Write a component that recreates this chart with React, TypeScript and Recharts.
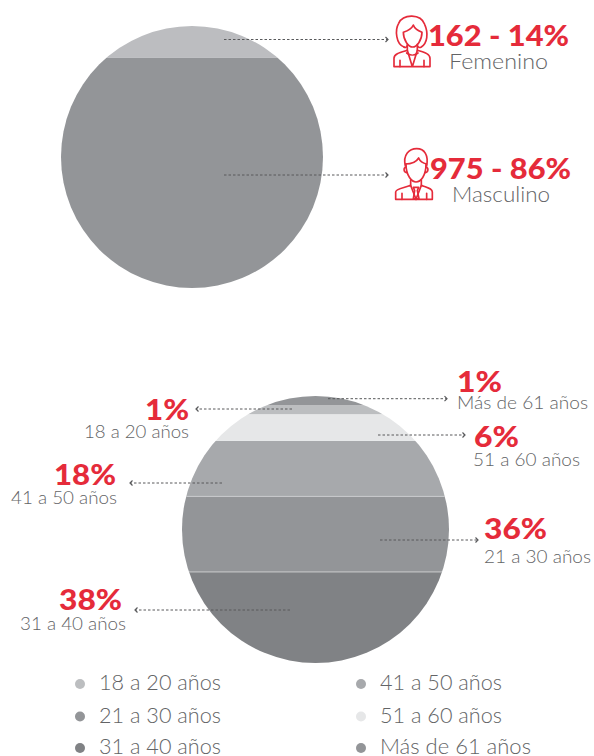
import React from "react";
import { BarChart, Bar, XAxis, YAxis } from "recharts";

// Band heights (share of each circle's diameter), bottom to top
const genderSeries = ["Masculino", "Femenino"];
const genderBands = [88, 12];
const genderColors = ["#939598", "#bcbdc0"];

const ageSeries = ["31 a 40 años", "21 a 30 años", "41 a 50 años", "51 a 60 años", "18 a 20 años", "Más de 61 años"];
const ageBands = [34.1, 28.3, 20.8, 10, 3.4, 3.4];
const ageColors = ["#808285", "#939598", "#a7a9ac", "#e6e7e8", "#bcbec0", "#939598"];
const ageSeparators = ["21 a 30 años", "41 a 50 años"];

const legendLeft = ["18 a 20 años", "21 a 30 años", "31 a 40 años"];
const legendRight = ["41 a 50 años", "51 a 60 años", "Más de 61 años"];
const legendLeftColors = ["#bcbec0", "#939598", "#808285"];
const legendRightColors = ["#a7a9ac", "#e6e7e8", "#939598"];
const legendRows = [684, 716.5, 748];
const legendBaselines = [689.5, 722.5, 754];
const legendLeftLengths = [122, 122, 122];
const legendRightLengths = [122, 122, 151];

const RED = "#e52b3a";
const GREY = "#636466";
const LINE = "#58595b";

const callouts = [
  { big: "162 - 14%", small: "Femenino", bx: 428, by: 46, bw: 141, sx: 449, sy: 69, sw: 99, sSize: 21, anchor: "start" },
  { big: "975 - 86%", small: "Masculino", bx: 430, by: 179, bw: 141, sx: 452, sy: 202, sw: 98, sSize: 21, anchor: "start" },
  { big: "1%", small: "Más de 61 años", bx: 457, by: 392, bw: 45, sx: 457, sy: 409, sw: 131, sSize: 18, anchor: "start" },
  { big: "6%", small: "51 a 60 años", bx: 474, by: 447, bw: 45, sx: 473, sy: 466, sw: 107, sSize: 18, anchor: "start" },
  { big: "36%", small: "21 a 30 años", bx: 484, by: 539, bw: 63, sx: 484, sy: 563, sw: 107, sSize: 18, anchor: "start" },
  { big: "1%", small: "18 a 20 años", bx: 189, by: 420, bw: 44, sx: 189, sy: 438, sw: 105, sSize: 18, anchor: "end" },
  { big: "18%", small: "41 a 50 años", bx: 116, by: 485, bw: 62, sx: 117, sy: 504, sw: 106, sSize: 18, anchor: "end" },
  { big: "38%", small: "31 a 40 años", bx: 122, by: 610, bw: 63, sx: 126, sy: 630, sw: 106, sSize: 18, anchor: "end" },
];

const leaders = [
  { y: 39.5, from: 224, to: 388 },
  { y: 175, from: 224, to: 388 },
  { y: 398.7, from: 328, to: 447 },
  { y: 409, from: 292, to: 196 },
  { y: 435, from: 378, to: 465 },
  { y: 483, from: 222, to: 130 },
  { y: 540, from: 380, to: 478 },
  { y: 610, from: 290, to: 135 },
];

const makeRow = (names: string[], values: number[]) => {
  const row: Record<string, number | string> = { name: "total" };
  names.forEach((n, i) => (row[n] = values[i]));
  return [row];
};

function Slice(props: any) {
  const { x, y, width, height, fill, clipId, separator } = props;
  return (
    <g clipPath={`url(#${clipId})`}>
      <rect x={x} y={y} width={width} height={height} fill={fill} />
      {separator ? <line x1={x} x2={x + width} y1={y + height} y2={y + height} stroke="#c9cacc" strokeWidth={1} /> : null}
    </g>
  );
}

function SlicedCircle({ names, values, colors, size, left, top, id, separators = [] }: any) {
  return (
    <div style={{ position: "absolute", left, top, width: size, height: size }}>
      <BarChart width={size} height={size} data={makeRow(names, values)} margin={{ top: 0, right: 0, bottom: 0, left: 0 }} barCategoryGap={0}>
        <defs>
          <clipPath id={id}>
            <circle cx={size / 2} cy={size / 2} r={size / 2} />
          </clipPath>
        </defs>
        <XAxis dataKey="name" hide />
        <YAxis type="number" domain={[0, 100]} hide />
        {names.map((n: string, i: number) => (
          <Bar
            key={n}
            dataKey={n}
            stackId="a"
            fill={colors[i]}
            isAnimationActive={false}
            shape={(p: any) => <Slice {...p} clipId={id} separator={separators.includes(n)} />}
          />
        ))}
      </BarChart>
    </div>
  );
}

const iconStyle = { fill: "none", stroke: RED, strokeWidth: 5, strokeLinejoin: "round", strokeLinecap: "round" } as any;

const WomanIcon = () => (
  <g transform="translate(380,5) scale(0.3333)" {...iconStyle}>
    <path d="M72 126 C48 118 44 75 56 55 C70 26 122 26 134 58 C146 85 142 115 124 126 C118 129 114 127 112 122" />
    <path d="M72 126 C76 129 80 127 82 122" />
    <path d="M70 82 C82 78 95 72 100 60 C104 72 116 78 126 82 C126 106 110 126 98 126 C86 126 70 106 70 82 Z" />
    <path d="M82 118 L82 136 M112 118 L112 136" />
    <path d="M42 185 L42 160 C42 146 62 142 82 136 L97 185 L112 136 C132 142 150 146 150 160 L150 185 Z" />
    <path d="M80 144 C90 152 104 152 114 144" />
    <path d="M60 166 L60 185 M132 166 L132 185" />
  </g>
);

const ManIcon = () => (
  <g transform="translate(380,140) scale(0.3333)" {...iconStyle}>
    <path d="M76 78 C68 44 88 26 110 26 C134 26 146 46 140 78" />
    <path d="M76 72 C94 72 110 64 116 54 C120 64 130 70 140 72" />
    <path d="M78 72 C78 108 96 126 108 126 C122 126 138 108 138 72" />
    <path d="M78 82 C70 82 70 96 80 98 M138 82 C146 82 146 96 136 98" />
    <path d="M92 120 L92 136 M124 120 L124 136" />
    <path d="M47 178 L47 156 C47 146 72 144 92 136 L108 178 L124 136 C144 144 157 146 157 156 L157 178 Z" />
    <path d="M100 142 L116 142 L112 152 L117 176 L108 178 L100 176 L104 152 Z" />
    <path d="M66 160 L66 178 M140 160 L140 178" />
  </g>
);

export default function App() {
  return (
    <div style={{ position: "absolute", left: 0, top: 0, width: 594, height: 756, overflow: "hidden", background: "#fff", fontFamily: "Lato" }}>
      <SlicedCircle id="clipGender" names={genderSeries} values={genderBands} colors={genderColors} size={262} left={61} top={26} />
      <SlicedCircle id="clipAge" names={ageSeries} values={ageBands} colors={ageColors} size={267} left={182} top={396} separators={ageSeparators} />
      <svg width={594} height={756} style={{ position: "absolute", left: 0, top: 0 }}>
        {leaders.map((l, i) => {
          const dir = l.to > l.from ? 1 : -1;
          return (
            <g key={i} stroke={LINE} fill="none">
              <line x1={l.from} x2={l.to} y1={l.y} y2={l.y} strokeWidth={1} strokeDasharray="2.5 2" />
              <polyline points={`${l.to - dir * 2.5},${l.y - 2.5} ${l.to},${l.y} ${l.to - dir * 2.5},${l.y + 2.5}`} strokeWidth={1.2} />
            </g>
          );
        })}
        <WomanIcon />
        <ManIcon />
        {callouts.map((c, i) => (
          <g key={i} textAnchor={c.anchor as any} fontFamily="Lato">
            <text x={c.bx} y={c.by} fill={RED} fontSize={28} fontWeight={900} textLength={c.bw} lengthAdjust="spacingAndGlyphs">{c.big}</text>
            <text x={c.sx} y={c.sy} fill={GREY} fontSize={c.sSize} fontWeight={300} textLength={c.sw} lengthAdjust="spacingAndGlyphs">{c.small}</text>
          </g>
        ))}
        {legendLeft.map((t, i) => (
          <g key={t}>
            <circle cx={80} cy={legendRows[i]} r={5} fill={legendLeftColors[i]} />
            <text x={99} y={legendBaselines[i]} fontFamily="Lato" fontSize={21} fontWeight={300} fill={GREY} textLength={legendLeftLengths[i]} lengthAdjust="spacingAndGlyphs">{t}</text>
          </g>
        ))}
        {legendRight.map((t, i) => (
          <g key={t}>
            <circle cx={361} cy={legendRows[i]} r={5} fill={legendRightColors[i]} />
            <text x={380} y={legendBaselines[i]} fontFamily="Lato" fontSize={21} fontWeight={300} fill={GREY} textLength={legendRightLengths[i]} lengthAdjust="spacingAndGlyphs">{t}</text>
          </g>
        ))}
      </svg>
    </div>
  );
}
